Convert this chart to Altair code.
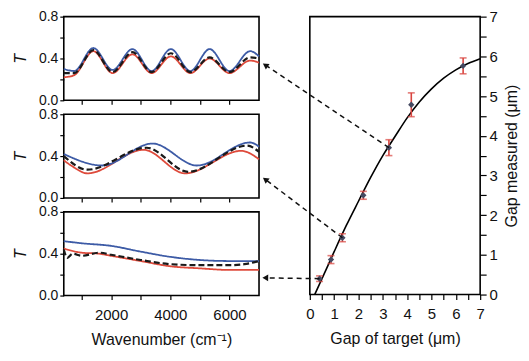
import math
import altair as alt
import pandas as pd

FONT = "Liberation Sans"
BLUE = "#3d5ba6"
RED = "#de4a3b"
DARK = "#1a1a1a"

# ---------------- Left spectra (T vs wavenumber) ----------------
# Panel 1 (largest gap)
p1_wn = [400, 750, 1400, 2050, 2720, 3370, 4020, 4680, 5330, 6000, 6700, 7000]
p1_blue = [0.30, 0.28, 0.50, 0.29, 0.49, 0.28, 0.49, 0.28, 0.49, 0.28, 0.47, 0.42]
p1_red = [0.22, 0.24, 0.47, 0.26, 0.44, 0.26, 0.42, 0.26, 0.40, 0.26, 0.38, 0.36]
p1_black = [0.26, 0.26, 0.48, 0.27, 0.46, 0.27, 0.45, 0.27, 0.41, 0.27, 0.41, 0.40]

# Panel 2 (middle gap)
p2_blue_wn = [400, 1700, 3400, 4900, 6700, 7000]
p2_blue = [0.42, 0.31, 0.52, 0.31, 0.53, 0.49]
p2_red_wn = [400, 700, 1200, 3100, 4500, 6400, 7000]
p2_red = [0.36, 0.30, 0.235, 0.46, 0.235, 0.45, 0.37]
p2_black_wn = [400, 1200, 3200, 4600, 6600, 7000]
p2_black = [0.40, 0.27, 0.48, 0.25, 0.50, 0.44]

# Panel 3 (smallest gap)
p3_blue_wn = [400, 1000, 2000, 3000, 4000, 5000, 6000, 7000]
p3_blue = [0.52, 0.50, 0.475, 0.42, 0.37, 0.34, 0.33, 0.33]
p3_red_wn = [400, 1000, 1600, 2000, 3000, 4000, 5000, 6000, 7000]
p3_red = [0.45, 0.41, 0.40, 0.38, 0.33, 0.28, 0.26, 0.245, 0.245]
p3_black_wn = [400, 520, 700, 1000, 1600, 2000, 3000, 4000, 5000, 6000, 6500, 7000]
p3_black = [0.44, 0.36, 0.40, 0.38, 0.41, 0.39, 0.34, 0.30, 0.29, 0.29, 0.30, 0.33]

wn_ticks = [1000, 2000, 3000, 4000, 5000, 6000]
t_ticks = [0.0, 0.2, 0.4, 0.6, 0.8]

# ---------------- Right panel (gap measured vs target) ----------------
gap_target = [0.4, 0.87, 1.34, 2.2, 3.25, 4.17, 6.3]
gap_measured = [0.4, 0.88, 1.43, 2.5, 3.7, 4.78, 5.76]
gap_err = [0.07, 0.1, 0.1, 0.1, 0.2, 0.3, 0.2]

fit_x = [0.2, 0.5, 1.0, 1.5, 2.0, 2.5, 3.0, 3.5, 4.0, 4.5, 5.0, 5.5, 6.0, 6.5, 7.0]
fit_y = [0.0, 0.4, 1.08, 1.74, 2.35, 2.95, 3.5, 3.98, 4.45, 4.85, 5.18, 5.45, 5.66, 5.82, 5.94]

gap_ticks = [0, 0.5, 1, 1.5, 2, 2.5, 3, 3.5, 4, 4.5, 5, 5.5, 6, 6.5, 7]

# arrows: start at a measured point, end at the right edge of a spectrum panel
arrow_x0 = [3.25, 1.34, 0.4]
arrow_y0 = [3.7, 1.43, 0.4]
arrow_x1 = [-1.83, -1.83, -1.83]
arrow_y1 = [5.78, 2.9, 0.42]

LW, LH = 196, 84
RW, RH = 171, 279


def spectrum_panel(series, show_x):
    layers = []
    for wn, t, color, dash, width in series:
        df = pd.DataFrame({"wn": wn, "T": t})
        x_axis = alt.Axis(
            values=wn_ticks,
            labels=show_x,
            labelExpr="datum.value % 2000 == 0 ? format(datum.value, 'd') : ''",
            title="Wavenumber (cm\u207b\u00b9)" if show_x else "",
            tickSize=4,
            labelPadding=8,
            titlePadding=9,
            labelOverlap=False,
        )
        y_axis = alt.Axis(
            values=t_ticks,
            labelExpr="(datum.value * 10) % 4 < 0.01 ? format(datum.value, '.1f') : ''",
            title="T",
            titleFontStyle="italic",
            titlePadding=10,
            tickSize=4,
            labelFontSize=14,
            labelOverlap=False,
        )
        line = alt.Chart(df).mark_line(
            color=color, strokeWidth=width, strokeDash=dash, interpolate="monotone"
        ).encode(
            x=alt.X("wn:Q", scale=alt.Scale(domain=[400, 7000], nice=False, zero=False), axis=x_axis),
            y=alt.Y("T:Q", scale=alt.Scale(domain=[0, 0.8], nice=False), axis=y_axis),
        )
        layers.append(line)
    return alt.layer(*layers).properties(width=LW, height=LH)


solid = [1, 0]
dashed = [6, 3]
panel1 = spectrum_panel([
    (p1_wn, p1_red, RED, solid, 1.8),
    (p1_wn, p1_blue, BLUE, solid, 1.8),
    (p1_wn, p1_black, DARK, dashed, 2.2),
], False)
panel2 = spectrum_panel([
    (p2_red_wn, p2_red, RED, solid, 1.8),
    (p2_blue_wn, p2_blue, BLUE, solid, 1.8),
    (p2_black_wn, p2_black, DARK, dashed, 2.2),
], False)
panel3 = spectrum_panel([
    (p3_red_wn, p3_red, RED, solid, 1.8),
    (p3_blue_wn, p3_blue, BLUE, solid, 1.8),
    (p3_black_wn, p3_black, DARK, dashed, 2.2),
], True)

left = alt.vconcat(panel1, panel2, panel3, spacing=14, bounds="flush")

# right panel
pts = pd.DataFrame({
    "x": gap_target,
    "y": gap_measured,
    "lo": [m - e for m, e in zip(gap_measured, gap_err)],
    "hi": [m + e for m, e in zip(gap_measured, gap_err)],
})
fit = pd.DataFrame({"x": fit_x, "y": fit_y})


def head_angle(x0, y0, x1, y1):
    dx = (x1 - x0) * RW / 7.0
    dy = -(y1 - y0) * RH / 7.0
    return math.degrees(math.atan2(dx, -dy)) % 360


arrows = pd.DataFrame({
    "x": arrow_x0, "y": arrow_y0, "x2": arrow_x1, "y2": arrow_y1,
    "ang": [head_angle(a, b, c, d) for a, b, c, d in zip(arrow_x0, arrow_y0, arrow_x1, arrow_y1)],
})

INT_LABEL = "datum.value % 1 == 0 ? format(datum.value, 'd') : ''"
gx_axis = alt.Axis(
    values=gap_ticks, labelExpr=INT_LABEL,
    title="Gap of target (\u03bcm)", tickSize=5, labelPadding=7, titlePadding=9, labelFlush=False,
    labelOverlap=False,
)
gy_axis = alt.Axis(
    values=gap_ticks, labelExpr=INT_LABEL,
    title="Gap measured (\u03bcm)", orient="right", titleAngle=270, titleBaseline="top",
    tickSize=6, labelPadding=3, titlePadding=6, labelFlush=False, labelOverlap=False,
)


def gx(field):
    return alt.X(field, type="quantitative", scale=alt.Scale(domain=[0, 7], nice=False), axis=gx_axis)


def gy(field):
    return alt.Y(field, type="quantitative", scale=alt.Scale(domain=[0, 7], nice=False), axis=gy_axis)


fit_line = alt.Chart(fit).mark_line(color="black", strokeWidth=1.6, interpolate="monotone").encode(
    x=gx("x"), y=gy("y"),
)
err_rule = alt.Chart(pts).mark_rule(color="#d9453f", strokeWidth=1.6).encode(
    x=gx("x"), y=gy("lo"), y2="hi:Q"
)
cap_lo = alt.Chart(pts).mark_tick(color="#d9453f", orient="horizontal", size=7, thickness=1.6).encode(
    x=gx("x"), y=gy("lo")
)
cap_hi = alt.Chart(pts).mark_tick(color="#d9453f", orient="horizontal", size=7, thickness=1.6).encode(
    x=gx("x"), y=gy("hi")
)
markers = alt.Chart(pts).mark_point(shape="diamond", filled=True, color="#454a62", size=40, opacity=1).encode(
    x=gx("x"), y=gy("y")
)
arrow_lines = alt.Chart(arrows).mark_rule(color="#111", strokeWidth=1.5, strokeDash=[5, 4]).encode(
    x=gx("x"), y=gy("y"), x2="x2:Q", y2="y2:Q"
)
arrow_heads = alt.Chart(arrows).mark_point(shape="triangle-up", filled=True, color="#111", size=45, opacity=1).encode(
    x=gx("x2"), y=gy("y2"), angle=alt.Angle("ang:Q", scale=None)
)

right = alt.layer(fit_line, err_rule, cap_lo, cap_hi, markers, arrow_lines, arrow_heads).properties(
    width=RW, height=RH
)

chart = alt.hconcat(left, right, spacing=-4).properties(
    padding={"left": 3, "top": 0, "right": 0, "bottom": 2}
).configure_view(
    stroke="black", strokeWidth=1.6
).configure_axis(
    grid=False, domain=False, tickColor="black", tickWidth=1.2,
    labelFont=FONT, titleFont=FONT, labelFontSize=15, titleFontSize=16,
    labelColor="#111", titleColor="#111", titleFontWeight="normal", labelOverlap=False,
)

chart.save("out.html", embed_options={"renderer": "svg", "actions": False})
